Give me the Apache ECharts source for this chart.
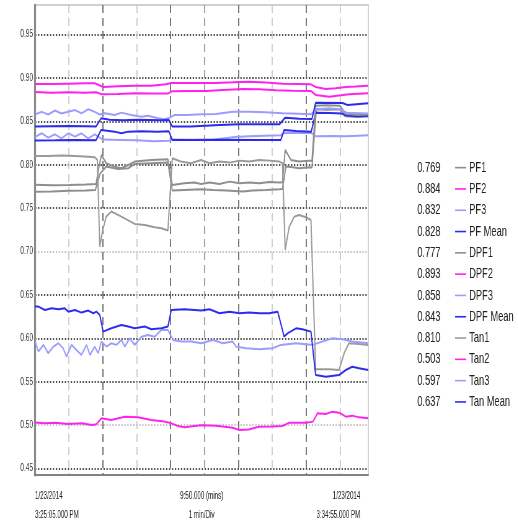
<!DOCTYPE html>
<html><head><meta charset="utf-8">
<script src="https://cdn.jsdelivr.net/npm/echarts@6/dist/echarts.min.js"></script>
<style>
html,body{margin:0;padding:0;background:#fff;overflow:hidden}
#wrap{width:518px;height:523px;overflow:hidden}
#c{width:835.5px;height:523px;transform:scaleX(0.62);transform-origin:0 0}
</style>
</head><body><div id="wrap"><div id="c"></div></div>
<script>
// ---- data (time in minutes from 3:25:05 PM, value) ----
const seriesNames = ['PF1','PF2','PF3','PF Mean','DPF1','DPF2','DPF3','DPF Mean','Tan1','Tan2','Tan3','Tan Mean'];
const legendValues = ['0.769','0.884','0.832','0.828','0.777','0.893','0.858','0.843','0.810','0.503','0.597','0.637'];
const xStartLabel = ['1/23/2014','3:25:05.000 PM'];
const xEndLabel = ['1/23/2014','3:34:55.000 PM'];
const xMidLabel = ['9:50.000 (mins)','1 min/Div'];
const spanMinutes = 9.8333;

const pf1 = [[0,0.769],[0.5,0.7691],[1.0,0.770],[1.5,0.7705],[1.78,0.771],[1.92,0.790],[2.1,0.7979],[2.45,0.7952],[2.75,0.796],[2.94,0.801],[3.43,0.8018],[3.92,0.8025],[4.05,0.7703],[4.4,0.771],[4.9,0.7718],[5.25,0.771],[5.64,0.7703],[6.13,0.7691],[6.42,0.7703],[6.81,0.771],[7.21,0.7718],[7.3,0.772],[7.4,0.7979],[7.6,0.7972],[7.79,0.796],[8.09,0.7972],[8.17,0.797],[8.3,0.864],[8.6,0.8635],[9.0,0.864],[9.15,0.856],[9.5,0.855],[9.83,0.8556]];
const pf2 = [[0,0.884],[0.49,0.8831],[0.98,0.8835],[1.47,0.8831],[1.81,0.8835],[1.96,0.8812],[2.45,0.8816],[2.94,0.8824],[3.43,0.882],[3.92,0.882],[4.04,0.8847],[4.51,0.8851],[5.05,0.8851],[5.54,0.8862],[6.13,0.8874],[6.62,0.887],[7.11,0.8858],[7.6,0.8854],[8.14,0.8851],[8.28,0.8804],[8.68,0.8785],[8.97,0.8797],[9.27,0.8812],[9.83,0.8824]];
const pf3 = [[0,0.832],[0.2,0.8363],[0.39,0.8313],[0.59,0.8351],[0.78,0.8305],[0.98,0.8363],[1.18,0.8324],[1.37,0.8363],[1.57,0.8305],[1.76,0.8351],[1.91,0.8313],[2.0,0.829],[2.5,0.8286],[3.0,0.8282],[3.5,0.827],[3.95,0.8278],[4.05,0.829],[4.6,0.8288],[5.3,0.8292],[5.9,0.832],[6.3,0.8328],[6.8,0.8336],[7.25,0.834],[7.35,0.8366],[7.8,0.837],[8.15,0.8366],[8.28,0.833],[8.8,0.8332],[9.2,0.8328],[9.83,0.834]];
const pfMean = [[0,0.828],[0.6,0.8282],[1.2,0.8286],[1.8,0.8284],[1.95,0.8401],[2.35,0.8382],[2.55,0.8363],[2.75,0.8382],[3.14,0.8386],[3.6,0.8382],[3.95,0.8386],[4.05,0.8286],[4.6,0.8286],[5.5,0.8288],[6.5,0.8286],[7.25,0.8286],[7.35,0.8401],[7.7,0.839],[8.15,0.8382],[8.28,0.860],[8.7,0.8597],[9.05,0.859],[9.15,0.857],[9.5,0.856],[9.83,0.8566]];
const dpf1 = [[0,0.777],[0.5,0.7765],[1.0,0.7768],[1.5,0.7772],[1.8,0.778],[1.9,0.800],[1.96,0.8113],[2.1,0.8018],[2.35,0.7979],[2.55,0.796],[2.75,0.7998],[2.94,0.8037],[3.43,0.8056],[3.92,0.8064],[4.05,0.7768],[4.4,0.7787],[4.7,0.7795],[4.9,0.7779],[5.15,0.7795],[5.44,0.7779],[5.74,0.7806],[6.03,0.7787],[6.32,0.7795],[6.62,0.7787],[6.91,0.7802],[7.21,0.7795],[7.3,0.78],[7.38,0.8171],[7.55,0.8056],[7.79,0.8037],[8.09,0.8048],[8.17,0.8045],[8.28,0.868],[8.6,0.8685],[9.0,0.868],[9.15,0.859],[9.5,0.8575],[9.83,0.858]];
const dpf2 = [[0,0.8931],[0.49,0.8931],[0.98,0.8935],[1.47,0.8939],[1.76,0.8939],[1.88,0.892],[2.01,0.8897],[2.45,0.8905],[2.94,0.8912],[3.43,0.8912],[3.87,0.8927],[4.02,0.8943],[4.71,0.8943],[5.34,0.8943],[5.83,0.895],[6.32,0.8958],[6.81,0.8947],[7.3,0.8935],[7.79,0.8931],[8.14,0.8927],[8.28,0.8897],[8.58,0.8874],[8.87,0.8881],[9.17,0.8897],[9.46,0.8901],[9.83,0.8912]];
const dpf3 = [[0,0.858],[0.2,0.861],[0.39,0.858],[0.59,0.8625],[0.78,0.859],[0.98,0.861],[1.18,0.863],[1.37,0.8593],[1.57,0.864],[1.76,0.861],[1.91,0.858],[2.06,0.8593],[2.35,0.8574],[2.55,0.8601],[2.84,0.8574],[3.14,0.8554],[3.33,0.8566],[3.63,0.8535],[3.82,0.8524],[3.97,0.8543],[4.12,0.8574],[4.51,0.8574],[4.9,0.8581],[5.34,0.8585],[5.83,0.8612],[6.32,0.8612],[6.81,0.8604],[7.3,0.8593],[7.79,0.8589],[8.14,0.8581],[8.3,0.864],[8.7,0.865],[9.0,0.864],[9.2,0.860],[9.83,0.859]];
const dpfMean = [[0,0.844],[0.5,0.8445],[1.0,0.8448],[1.5,0.8445],[1.8,0.8442],[1.95,0.8535],[2.2,0.852],[2.6,0.8512],[3.0,0.852],[3.4,0.8516],[3.7,0.8512],[3.95,0.8516],[4.05,0.844],[4.6,0.844],[5.44,0.8459],[6.03,0.8466],[7.21,0.8466],[7.38,0.8543],[7.79,0.8531],[8.17,0.8528],[8.28,0.8716],[9.07,0.8712],[9.22,0.8689],[9.83,0.8708]];
const tan1 = [[0,0.810],[0.39,0.8102],[0.78,0.8106],[1.18,0.8102],[1.57,0.8094],[1.76,0.8087],[1.84,0.8056],[1.91,0.7057],[2.0,0.725],[2.1,0.7403],[2.25,0.7461],[2.55,0.7403],[2.94,0.7319],[3.24,0.7307],[3.53,0.728],[3.73,0.7269],[3.92,0.7242],[4.05,0.8075],[4.3,0.8037],[4.6,0.8018],[4.9,0.8056],[5.15,0.8018],[5.44,0.8037],[5.74,0.8025],[6.03,0.8048],[6.32,0.8037],[6.62,0.8056],[6.91,0.8048],[7.21,0.8037],[7.3,0.8018],[7.38,0.7018],[7.5,0.7288],[7.65,0.7403],[7.79,0.7422],[7.99,0.7395],[8.14,0.7364],[8.28,0.5644],[8.68,0.5644],[8.97,0.5636],[9.12,0.5829],[9.26,0.5944],[9.56,0.5936],[9.83,0.5925]];
const tan2 = [[0,0.503],[0.29,0.5021],[0.59,0.5029],[0.98,0.5014],[1.37,0.5021],[1.67,0.5002],[1.81,0.501],[1.96,0.5079],[2.25,0.506],[2.65,0.5098],[3.04,0.509],[3.43,0.506],[3.82,0.5041],[4.02,0.5021],[4.22,0.4991],[4.41,0.4975],[4.71,0.4991],[4.9,0.4998],[5.34,0.4994],[5.83,0.497],[6.03,0.4945],[6.3,0.495],[6.6,0.4983],[7.0,0.4986],[7.3,0.499],[7.5,0.5029],[8.0,0.5029],[8.2,0.5041],[8.33,0.5137],[8.58,0.5129],[8.77,0.5156],[8.97,0.5144],[9.17,0.5098],[9.36,0.511],[9.56,0.509],[9.83,0.5079]];
const tan3 = [[0,0.597],[0.1,0.5848],[0.25,0.5925],[0.39,0.5829],[0.54,0.5905],[0.69,0.5944],[0.83,0.5886],[0.93,0.579],[1.08,0.5925],[1.27,0.5848],[1.37,0.5809],[1.52,0.5925],[1.62,0.5809],[1.76,0.5905],[1.86,0.5829],[1.96,0.5963],[2.11,0.5905],[2.25,0.5944],[2.4,0.5925],[2.55,0.5982],[2.65,0.5905],[2.79,0.6001],[2.94,0.5925],[3.14,0.602],[3.33,0.6039],[3.53,0.602],[3.73,0.6097],[3.92,0.6097],[4.07,0.5982],[4.31,0.5963],[4.61,0.5963],[4.9,0.5944],[5.25,0.5982],[5.54,0.5944],[5.83,0.5963],[5.93,0.5905],[6.23,0.5886],[6.62,0.5874],[7.01,0.5886],[7.25,0.5925],[7.7,0.5944],[8.19,0.5925],[8.48,0.5963],[8.77,0.6001],[9.07,0.599],[9.36,0.5963],[9.83,0.5944]];
const tanMean = [[0,0.6366],[0.1,0.6366],[0.29,0.6327],[0.49,0.6346],[0.69,0.6335],[0.88,0.6346],[0.98,0.6308],[1.18,0.6327],[1.37,0.6297],[1.57,0.632],[1.72,0.6289],[1.81,0.6308],[1.91,0.627],[2.01,0.6078],[2.25,0.6116],[2.55,0.6155],[2.75,0.6136],[2.94,0.6116],[3.24,0.6136],[3.43,0.6105],[3.73,0.6116],[3.92,0.6136],[4.02,0.6327],[4.41,0.6335],[4.9,0.632],[5.15,0.6335],[5.44,0.6289],[5.74,0.6308],[6.03,0.6289],[6.32,0.6297],[6.62,0.6289],[6.91,0.6289],[7.16,0.6308],[7.35,0.602],[7.45,0.6058],[7.7,0.6116],[7.89,0.6105],[8.14,0.6078],[8.28,0.5578],[8.58,0.5559],[8.97,0.5578],[9.17,0.5636],[9.36,0.5674],[9.56,0.5655],[9.83,0.5636]];

const seriesData = [pf1,pf2,pf3,pfMean,dpf1,dpf2,dpf3,dpfMean,tan1,tan2,tan3,tanMean];

// ---- styles ----
const S = 0.62; // horizontal compression applied to the whole canvas via CSS
const GRAY='#8e8e8e', MAG='#ff22ee', LB='#9c9cff', BLUE='#2b2bee';
const seriesColors = [GRAY,MAG,LB,BLUE,GRAY,MAG,LB,BLUE,'#9a9a9a',MAG,LB,BLUE];
const FONT = "'Liberation Sans',Arial,sans-serif";
const DOT='#151515', DOTL='#b0b0b0', CLR='rgba(0,0,0,0)';
const VD='#5a5a5a', VL='#c4c4c4';

const chart = echarts.init(document.getElementById('c'), null, {renderer:'canvas'});
const option = {
  animation:false,
  backgroundColor:'#fff',
  grid:{left:35/S,right:150/S,top:5,bottom:48,outerBoundsMode:'none',containLabel:false,
        show:true,borderColor:'#d0d0d0',borderWidth:1.8},
  xAxis:{
    type:'value',min:0,max:spanMinutes,interval:1,
    axisLine:{show:true,onZero:false,lineStyle:{color:'#6a6a6a',width:1.5}},
    axisTick:{show:false},
    splitLine:{show:true,lineStyle:{type:[8,5],width:1.6,
      color:[CLR,VL,VD,VL,VD,'#8a8a8a',VD,VL,VD,VL,CLR]}},
    axisLabel:{show:true,interval:0,showMinLabel:true,showMaxLabel:true,alignMinLabel:'left',alignMaxLabel:'right',
      margin:12.5,fontSize:10,lineHeight:18.3,color:'#222',fontFamily:FONT,
      rich:{r:{fontSize:10,lineHeight:18.3,color:'#222',fontFamily:FONT,padding:[0,13,0,0]}},
      formatter:function(v){
        if(v===0) return xStartLabel.join('\n');
        if(Math.abs(v-spanMinutes)<1e-6) return xEndLabel.map(function(s){return '{r|'+s+'}';}).join('\n');
        return '';
      }},
    name:xMidLabel.join('\n'),nameLocation:'middle',nameGap:12.5,nameMoveOverlap:false,
    nameTextStyle:{fontSize:10,lineHeight:18.3,color:'#222',fontFamily:FONT,verticalAlign:'top'}
  },
  yAxis:{
    type:'value',min:0.4426,max:0.9841,splitNumber:11,
    axisLine:{show:true,lineStyle:{color:'#8a8a8a',width:3.2}},
    axisTick:{show:false},
    axisLabel:{margin:3.2,fontSize:10.5,color:'#333',fontFamily:FONT,showMinLabel:false,showMaxLabel:false,
      formatter:function(v){return v.toFixed(2);}},
    splitLine:{show:true,lineStyle:{type:[2.2,2.6],width:1.5,
      color:[CLR,DOT,DOTL,DOT,DOT,DOT,DOTL,DOT,DOT,DOT,DOT,DOT,CLR]}}
  },
  legend:[
    {data:seriesNames,orient:'vertical',left:411/S,top:152,itemWidth:0,itemHeight:0,icon:'rect',itemGap:0,selectedMode:false,
     textStyle:{fontSize:15,lineHeight:21.3,color:'#222',fontFamily:FONT},
     formatter:function(n){return legendValues[seriesNames.indexOf(n)];}},
    {data:seriesNames,orient:'vertical',left:452/S,top:152,itemWidth:11/S,itemHeight:1.6,icon:'rect',itemGap:0,selectedMode:false,
     textStyle:{fontSize:15,lineHeight:21.3,color:'#222',fontFamily:FONT}}
  ],
  series: seriesNames.map(function(n,i){return {
    name:n,type:'line',data:seriesData[i],showSymbol:false,symbol:'none',
    lineStyle:{color:seriesColors[i],width:2},itemStyle:{color:seriesColors[i]},
    z:2
  };})
};
chart.setOption(option);
</script></body></html>
